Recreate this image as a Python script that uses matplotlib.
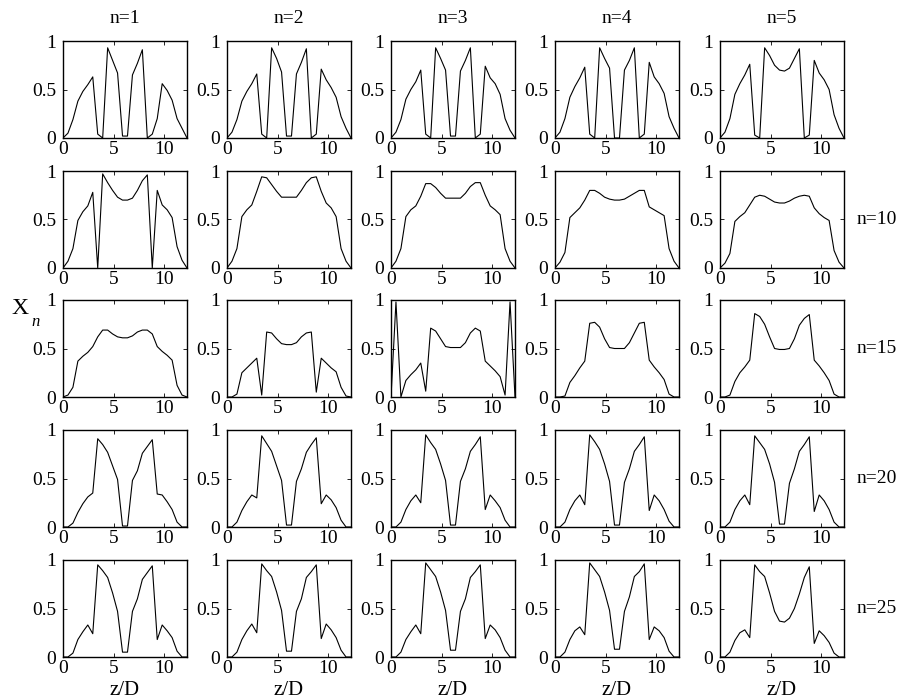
import matplotlib
matplotlib.use("Agg")
import matplotlib.pyplot as plt

plt.rcParams['font.family'] = ['Liberation Serif', 'DejaVu Serif']

# z/D sample positions (26 points)
z = [0.0, 0.49, 0.98, 1.47, 1.96, 2.45, 2.94, 3.43, 3.92, 4.41, 4.9, 5.39, 5.88,
     6.37, 6.86, 7.35, 7.84, 8.33, 8.82, 9.31, 9.8, 10.29, 10.78, 11.27, 11.76, 12.25]

col_titles = ['n=1', 'n=2', 'n=3', 'n=4', 'n=5']
row_labels = ['', 'n=10', 'n=15', 'n=20', 'n=25']

# each row: one series per column
row1 = [
    [0, 0.05, 0.19, 0.38, 0.48, 0.55, 0.63, 0.04, 0, 0.93, 0.8, 0.67, 0.02, 0.02, 0.65, 0.77, 0.91, 0, 0.04, 0.2, 0.56, 0.49, 0.39, 0.2, 0.1, 0],
    [0, 0.06, 0.19, 0.38, 0.48, 0.56, 0.66, 0.04, 0, 0.93, 0.82, 0.68, 0.02, 0.02, 0.66, 0.78, 0.92, 0, 0.04, 0.71, 0.6, 0.52, 0.42, 0.22, 0.1, 0],
    [0, 0.06, 0.19, 0.4, 0.5, 0.58, 0.7, 0.04, 0, 0.93, 0.82, 0.7, 0.02, 0.02, 0.69, 0.8, 0.93, 0, 0.04, 0.74, 0.62, 0.56, 0.45, 0.2, 0.08, 0],
    [0, 0.06, 0.2, 0.42, 0.53, 0.62, 0.73, 0.04, 0, 0.93, 0.82, 0.72, 0, 0, 0.7, 0.8, 0.93, 0, 0.04, 0.78, 0.63, 0.56, 0.46, 0.22, 0.1, 0],
    [0, 0.06, 0.2, 0.45, 0.56, 0.65, 0.76, 0.03, 0, 0.93, 0.85, 0.75, 0.7, 0.69, 0.72, 0.82, 0.92, 0, 0.03, 0.8, 0.67, 0.6, 0.5, 0.24, 0.1, 0],
]
row2 = [
    [0, 0.07, 0.2, 0.49, 0.58, 0.64, 0.78, 0, 0.97, 0.88, 0.8, 0.73, 0.7, 0.7, 0.72, 0.8, 0.9, 0.96, 0, 0.8, 0.65, 0.6, 0.52, 0.22, 0.08, 0],
    [0, 0.07, 0.2, 0.53, 0.6, 0.65, 0.79, 0.94, 0.93, 0.86, 0.79, 0.73, 0.73, 0.73, 0.73, 0.8, 0.88, 0.93, 0.94, 0.79, 0.67, 0.62, 0.53, 0.2, 0.07, 0],
    [0, 0.07, 0.2, 0.53, 0.6, 0.64, 0.74, 0.87, 0.87, 0.83, 0.77, 0.72, 0.72, 0.72, 0.72, 0.77, 0.84, 0.88, 0.88, 0.75, 0.64, 0.6, 0.55, 0.2, 0.07, 0],
    [0, 0.06, 0.16, 0.52, 0.57, 0.62, 0.7, 0.8, 0.8, 0.77, 0.73, 0.71, 0.7, 0.7, 0.71, 0.74, 0.77, 0.8, 0.8, 0.63, 0.6, 0.57, 0.54, 0.2, 0.07, 0],
    [0, 0.05, 0.15, 0.48, 0.53, 0.57, 0.65, 0.73, 0.75, 0.74, 0.71, 0.68, 0.67, 0.67, 0.69, 0.72, 0.74, 0.75, 0.74, 0.62, 0.56, 0.52, 0.49, 0.18, 0.06, 0],
]
row3 = [
    [0, 0.02, 0.1, 0.37, 0.42, 0.46, 0.52, 0.62, 0.69, 0.69, 0.65, 0.62, 0.61, 0.61, 0.63, 0.67, 0.69, 0.69, 0.65, 0.52, 0.47, 0.43, 0.38, 0.12, 0.02, 0],
    [0, 0, 0.03, 0.25, 0.3, 0.35, 0.4, 0.02, 0.67, 0.66, 0.6, 0.55, 0.54, 0.54, 0.56, 0.62, 0.66, 0.67, 0.05, 0.4, 0.35, 0.3, 0.26, 0.1, 0.01, 0],
    [0, 0.98, 0, 0.17, 0.23, 0.28, 0.35, 0.06, 0.71, 0.68, 0.6, 0.52, 0.51, 0.51, 0.51, 0.56, 0.66, 0.71, 0.68, 0.37, 0.32, 0.27, 0.21, 0.02, 0.98, 0],
    [0, 0, 0.01, 0.15, 0.22, 0.3, 0.37, 0.76, 0.77, 0.72, 0.6, 0.51, 0.5, 0.5, 0.5, 0.56, 0.66, 0.76, 0.77, 0.38, 0.31, 0.25, 0.18, 0.03, 0, 0],
    [0, 0, 0.02, 0.16, 0.25, 0.31, 0.38, 0.86, 0.83, 0.75, 0.62, 0.5, 0.49, 0.49, 0.5, 0.6, 0.74, 0.81, 0.85, 0.38, 0.32, 0.25, 0.17, 0.03, 0, 0],
]
row4 = [
    [0, 0, 0.04, 0.15, 0.24, 0.31, 0.35, 0.91, 0.85, 0.77, 0.63, 0.49, 0.01, 0.01, 0.48, 0.58, 0.76, 0.83, 0.9, 0.34, 0.33, 0.26, 0.18, 0.05, 0, 0],
    [0, 0, 0.05, 0.17, 0.26, 0.33, 0.3, 0.94, 0.86, 0.78, 0.63, 0.48, 0.02, 0.02, 0.47, 0.6, 0.77, 0.85, 0.92, 0.24, 0.33, 0.28, 0.2, 0.07, 0, 0],
    [0, 0, 0.05, 0.18, 0.27, 0.33, 0.25, 0.95, 0.87, 0.8, 0.65, 0.48, 0.02, 0.02, 0.47, 0.6, 0.78, 0.85, 0.93, 0.18, 0.33, 0.27, 0.2, 0.07, 0, 0],
    [0, 0, 0.05, 0.18, 0.27, 0.33, 0.23, 0.95, 0.88, 0.8, 0.65, 0.47, 0.02, 0.02, 0.46, 0.6, 0.78, 0.85, 0.93, 0.17, 0.33, 0.27, 0.18, 0.06, 0, 0],
    [0, 0, 0.05, 0.18, 0.27, 0.33, 0.23, 0.94, 0.87, 0.8, 0.65, 0.46, 0.03, 0.03, 0.45, 0.6, 0.78, 0.85, 0.93, 0.16, 0.33, 0.27, 0.18, 0.05, 0, 0],
]
row5 = [
    [0, 0, 0.04, 0.18, 0.26, 0.33, 0.24, 0.95, 0.89, 0.82, 0.66, 0.47, 0.05, 0.05, 0.47, 0.6, 0.8, 0.87, 0.94, 0.18, 0.33, 0.27, 0.2, 0.06, 0, 0],
    [0, 0, 0.05, 0.18, 0.27, 0.34, 0.25, 0.96, 0.89, 0.83, 0.67, 0.48, 0.06, 0.06, 0.47, 0.6, 0.82, 0.88, 0.95, 0.19, 0.34, 0.28, 0.2, 0.07, 0, 0],
    [0, 0, 0.05, 0.18, 0.26, 0.33, 0.24, 0.97, 0.9, 0.83, 0.67, 0.48, 0.07, 0.07, 0.47, 0.6, 0.82, 0.88, 0.95, 0.19, 0.33, 0.28, 0.2, 0.07, 0, 0],
    [0, 0, 0.05, 0.18, 0.27, 0.31, 0.23, 0.97, 0.9, 0.83, 0.67, 0.48, 0.08, 0.08, 0.47, 0.62, 0.83, 0.88, 0.96, 0.18, 0.31, 0.27, 0.2, 0.06, 0, 0],
    [0, 0, 0.05, 0.17, 0.25, 0.28, 0.2, 0.95, 0.88, 0.83, 0.66, 0.47, 0.37, 0.36, 0.4, 0.5, 0.65, 0.82, 0.93, 0.14, 0.27, 0.22, 0.15, 0.04, 0, 0],
]
rows = [row1, row2, row3, row4, row5]

W, H = 912, 700
fig = plt.figure(figsize=(W / 100, H / 100), dpi=100)

col_left = [63, 227, 391, 555, 720]
row_top = [41, 171, 300, 430, 560]
pw, ph = 124, 97
fs = 14

for r in range(5):
    for c in range(5):
        ax = fig.add_axes([col_left[c] / W, 1 - (row_top[r] + ph) / H, pw / W, ph / H])
        ax.plot(z, rows[r][c], color='black', lw=0.8)
        ax.set_xlim(0, 12.25)
        ax.set_ylim(0, 1)
        ax.set_xticks([0, 5, 10])
        ax.set_yticks([0, 0.5, 1])
        ax.set_xticklabels(['0', '5', '10'])
        ax.set_yticklabels(['0', '0.5', '1'])
        ax.tick_params(direction='in', length=3, width=0.6, labelsize=fs,
                       top=True, right=True)
        ax.tick_params(axis='x', pad=2)
        ax.tick_params(axis='y', pad=5)
        for s in ax.spines.values():
            s.set_linewidth(1.0)
        if r == 0:
            ax.set_title(col_titles[c], fontsize=fs, pad=13)
        if c == 4 and row_labels[r]:
            ax.text(1.1, 0.5, row_labels[r], transform=ax.transAxes,
                    fontsize=fs, ha='left', va='center')
        if r == 4:
            ax.text(0.5, -0.39, 'z/D', transform=ax.transAxes,
                    fontsize=fs + 1, ha='center', va='baseline')

fig.text(11 / W, 1 - 314 / H, 'X', fontsize=17, ha='left', va='baseline')
fig.text(31 / W, 1 - 326 / H, 'n', fontsize=12, style='italic', ha='left', va='baseline')

fig.savefig('out.png', dpi=100)
